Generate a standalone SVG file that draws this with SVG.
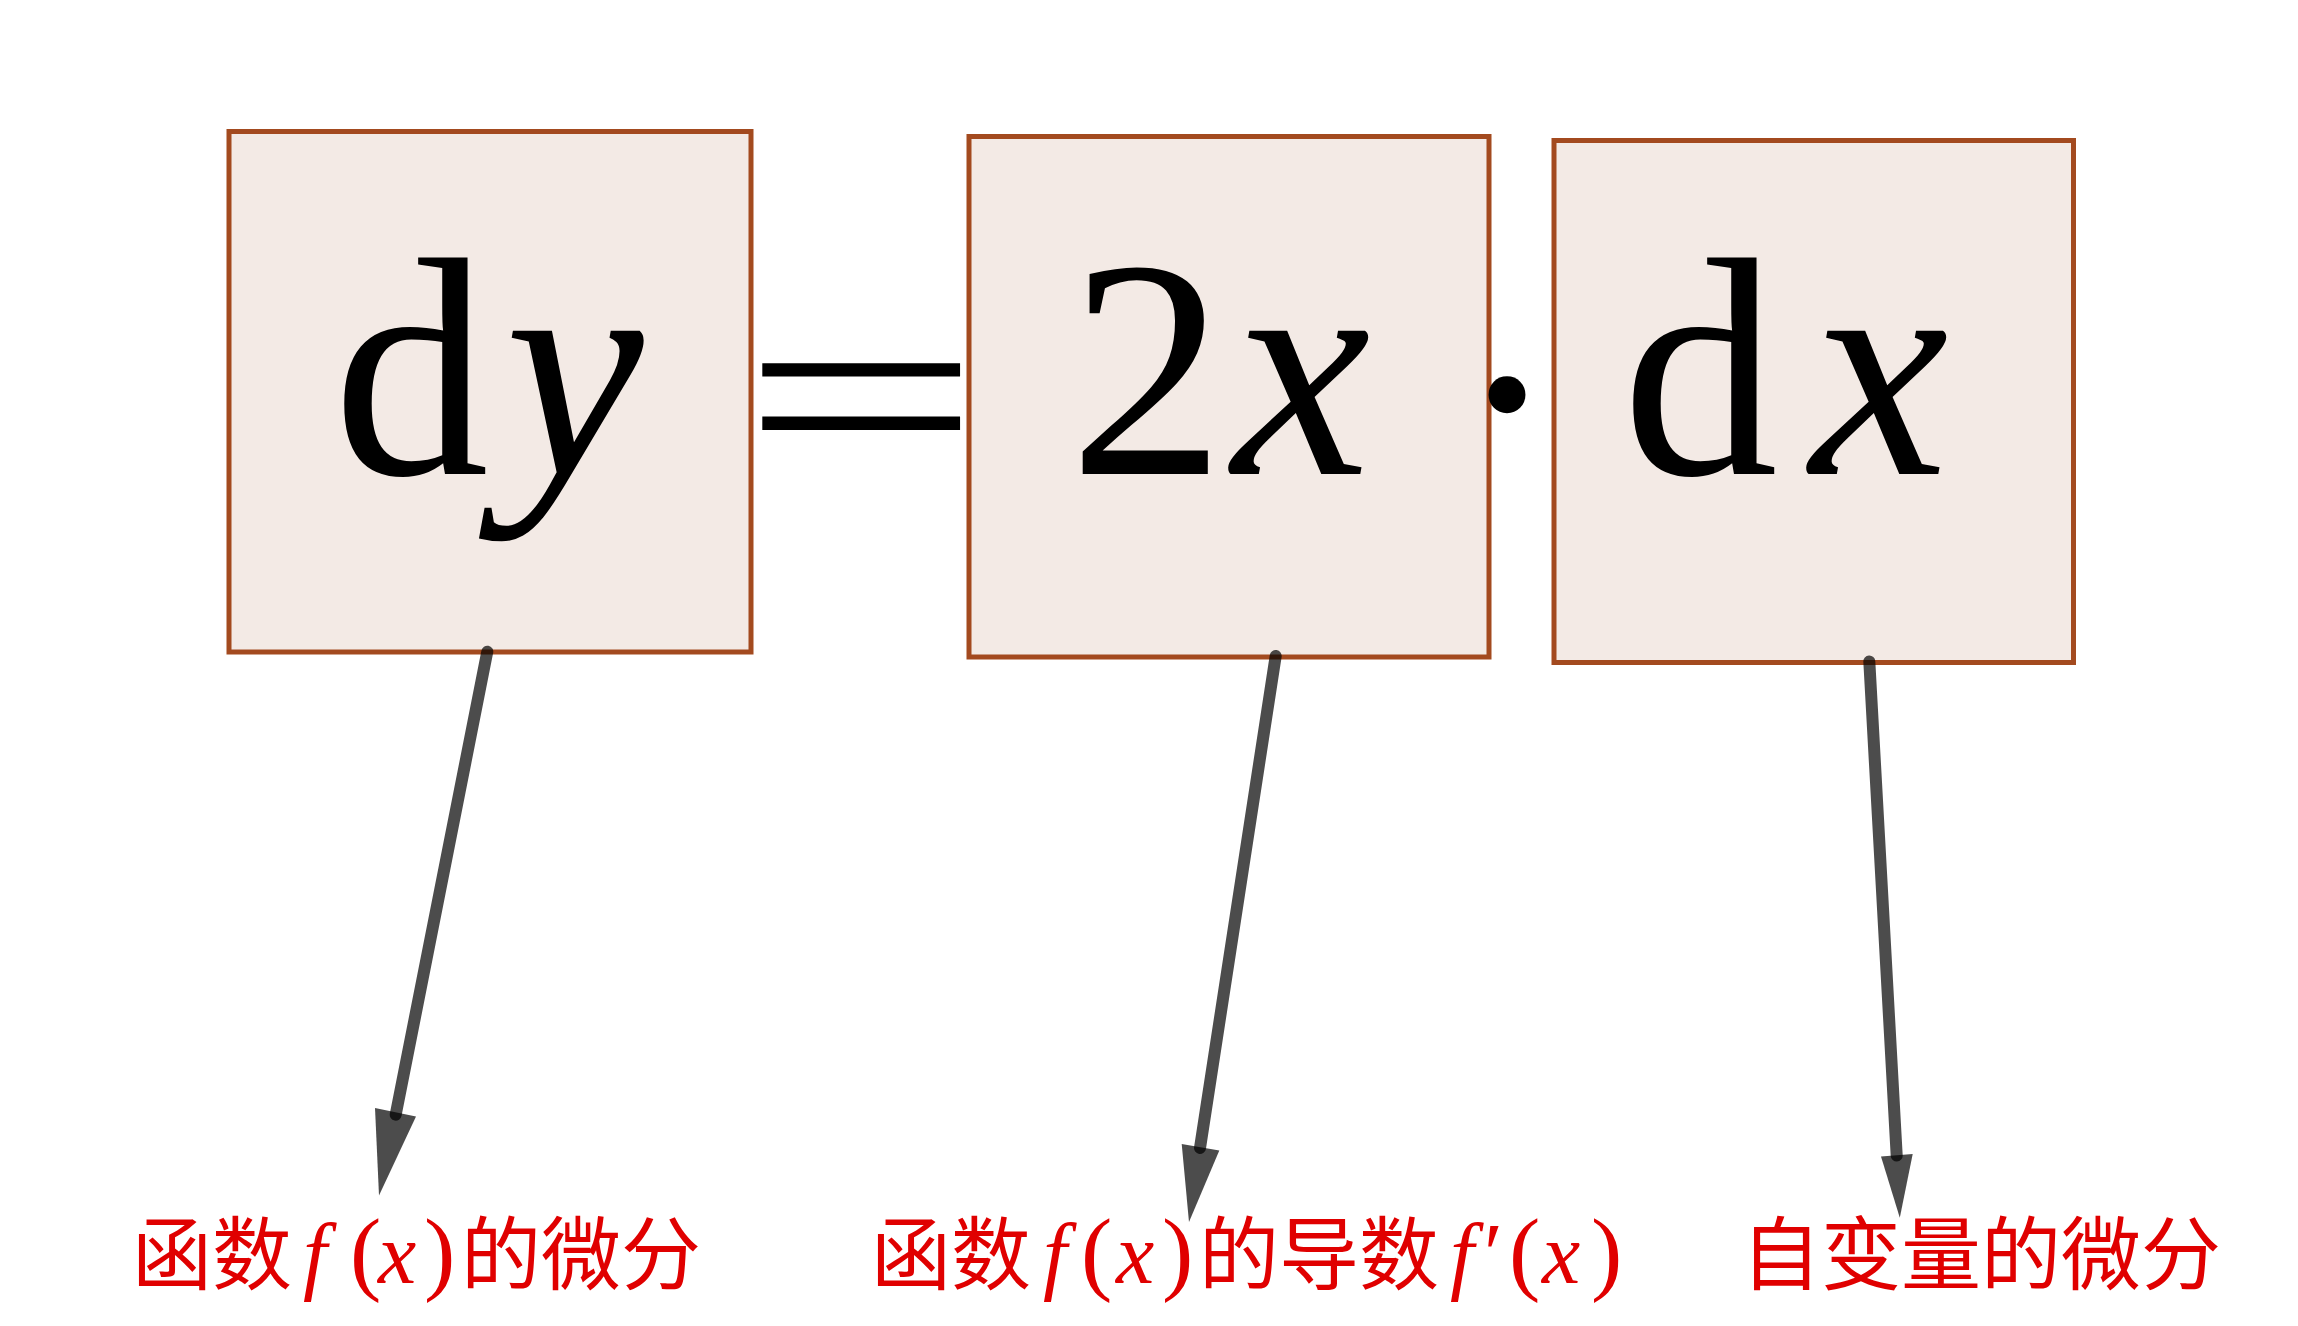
<svg xmlns="http://www.w3.org/2000/svg" width="2298" height="1326" viewBox="0 0 2298 1326">
<style>
.box{fill:#f3eae5;stroke:#a34a1f;stroke-width:5}
.math{font-family:"Liberation Serif",serif;fill:#000}
.it{font-style:italic}
.lab{font-family:"Noto Sans CJK SC",sans-serif;font-size:80px;fill:#e00000}
.lm{font-family:"Liberation Serif",serif;font-size:86px}
.lp{font-family:"Liberation Serif",serif;font-size:94px}
.conn{stroke:#000;stroke-opacity:0.7;stroke-width:12;stroke-linecap:round;fill:none}
.head{fill:#000;fill-opacity:0.7}
</style>
<rect width="2298" height="1326" fill="#fff"/>
<g id="node-dy">
<rect class="box" x="229" y="131.5" width="522" height="520.5"/>
<text class="math" font-size="312" y="474"><tspan x="333">d</tspan><tspan class="it" x="505">y</tspan></text>
</g>
<g id="eq">
<text class="math" font-size="312" x="861" y="474" text-anchor="middle" transform="translate(861 395) scale(1.362 0.855) translate(-861 -368.6)">=</text>
</g>
<g id="node-2x">
<rect class="box" x="969" y="136.5" width="520" height="520.5"/>
<text class="math" font-size="312" y="474"><tspan x="1069">2</tspan><tspan class="it" x="1232">x</tspan></text>
</g>
<g id="dot">
<text class="math" font-size="312" x="1507" y="498" text-anchor="middle">·</text>
</g>
<g id="node-dx">
<rect class="box" x="1554" y="140.5" width="519.5" height="522"/>
<text class="math" font-size="312" y="474"><tspan x="1622">d</tspan><tspan class="it" x="1810">x</tspan></text>
</g>
<g id="connectors">
<line class="conn" x1="487.3" y1="651.7" x2="395.7" y2="1114.7"/>
<polygon class="head" points="375,1108 416,1116.6 379,1195.5"/>
<line class="conn" x1="1275.7" y1="656" x2="1200" y2="1148"/>
<polygon class="head" points="1181.7,1144 1219.3,1150.6 1189,1222"/>
<line class="conn" x1="1869.3" y1="661.4" x2="1896.7" y2="1155.6"/>
<polygon class="head" points="1881,1156.4 1912.7,1154 1899.8,1217.7"/>
</g>
<g id="label-1">
<text class="lab" y="1283"><tspan x="132">函数</tspan><tspan class="lm it" x="303">f</tspan><tspan class="lp" x="350">(</tspan><tspan class="lm it" x="378">x</tspan><tspan class="lp" x="424">)</tspan><tspan x="461">的微分</tspan></text>
</g>
<g id="label-2">
<text class="lab" y="1283"><tspan x="871">函数</tspan><tspan class="lm it" x="1043">f</tspan><tspan class="lp" x="1081">(</tspan><tspan class="lm it" x="1116">x</tspan><tspan class="lp" x="1162">)</tspan><tspan x="1199">的导数</tspan><tspan class="lm it" x="1450">f</tspan><tspan class="lm" x="1484">′</tspan><tspan class="lp" x="1509">(</tspan><tspan class="lm it" x="1542">x</tspan><tspan class="lp" x="1591">)</tspan></text>
</g>
<g id="label-3">
<text class="lab" x="1741" y="1283" font-size="81">自变量的微分</text>
</g>
</svg>
